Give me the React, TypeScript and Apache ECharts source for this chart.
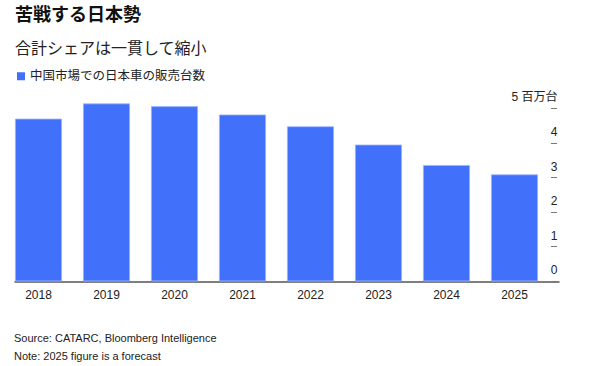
import React, { useEffect, useRef } from "react";
import * as echarts from "echarts";

const years = ["2018", "2019", "2020", "2021", "2022", "2023", "2024", "2025"];
const sales = [4.7, 5.14, 5.06, 4.82, 4.48, 3.95, 3.36, 3.09];
const yTicks = [0, 1, 2, 3, 4, 5];
const seriesName = "中国市場での日本車の販売台数";
const titleText = "苦戦する日本勢";
const subtitleText = "合計シェアは一貫して縮小";
const sourceText = "Source: CATARC, Bloomberg Intelligence";
const noteText = "Note: 2025 figure is a forecast";
const unitText = "百万台";

const FONT = '"Liberation Sans", "Noto Sans CJK JP", sans-serif';

export default function App() {
  const ref = useRef<HTMLDivElement>(null);
  useEffect(() => {
    if (!ref.current) return;
    const chart = echarts.init(ref.current, null, { renderer: "svg" });
    const maxTick = yTicks[yTicks.length - 1];
    chart.setOption({
      animation: false,
      textStyle: { fontFamily: FONT },
      title: [
        {
          text: titleText,
          left: 15,
          top: 6,
          padding: 0,
          textStyle: { fontSize: 18, fontWeight: "bold", color: "#111", fontFamily: FONT },
        },
        {
          text: subtitleText,
          left: 15,
          top: 40,
          padding: 0,
          textStyle: { fontSize: 16, fontWeight: "normal", color: "#222", fontFamily: FONT },
        },
        {
          text: sourceText,
          left: 14,
          top: 332,
          padding: 0,
          textStyle: { fontSize: 11, fontWeight: "normal", color: "#222", fontFamily: FONT },
        },
        {
          text: noteText,
          left: 14,
          top: 350,
          padding: 0,
          textStyle: { fontSize: 11, fontWeight: "normal", color: "#222", fontFamily: FONT },
        },
      ],
      legend: {
        left: 17,
        top: 70,
        padding: 0,
        icon: "rect",
        itemWidth: 8,
        itemHeight: 8,
        data: [seriesName],
        itemStyle: { borderWidth: 0, color: "#4170fa" },
        textStyle: { fontSize: 12.5, color: "#222", fontFamily: FONT },
      },
      grid: [
        { left: 4.5, right: 40.5, top: 108.3, bottom: 84.7, containLabel: false },
        { left: 15, right: 30, top: 108.3, bottom: 84.2, containLabel: false },
      ],
      xAxis: [
        {
          type: "category",
          gridIndex: 0,
          data: years,
          axisLine: { show: false },
          axisTick: { show: false },
          axisLabel: { fontSize: 12, color: "#222", margin: 8, fontFamily: FONT },
        },
        {
          type: "value",
          gridIndex: 1,
          min: 0,
          max: 1,
          axisLine: { show: true, lineStyle: { color: "#555", width: 1.5 } },
          axisTick: { show: false },
          axisLabel: { show: false },
          splitLine: { show: false },
        },
      ],
      yAxis: [
        {
          type: "value",
          gridIndex: 0,
          position: "right",
          min: 0,
          max: maxTick,
          interval: 1,
          offset: 2.5,
          axisLine: { show: false },
          axisTick: { show: true, length: 6, lineStyle: { color: "#777", width: 1 } },
          splitLine: { show: false },
          axisLabel: {
            fontSize: 12,
            color: "#222",
            align: "right",
            verticalAlign: "bottom",
            margin: 6.5,
            padding: [0, 0, 5, 0],
            fontFamily: FONT,
            formatter: (v: number) => (v === maxTick ? `${v} ${unitText}` : `${v}`),
          },
        },
        { type: "value", gridIndex: 1, show: false },
      ],
      series: [
        {
          name: seriesName,
          type: "bar",
          xAxisIndex: 0,
          yAxisIndex: 0,
          data: sales,
          barWidth: 47,
          clip: false,
          itemStyle: { color: "#4170fa", borderColor: "#9db5fc", borderWidth: 0.8 },
        },
      ],
    });
    return () => chart.dispose();
  }, []);
  return (
    <div
      ref={ref}
      style={{ position: "fixed", left: 0, top: 0, width: 589, height: 366, background: "#fff" }}
    />
  );
}
